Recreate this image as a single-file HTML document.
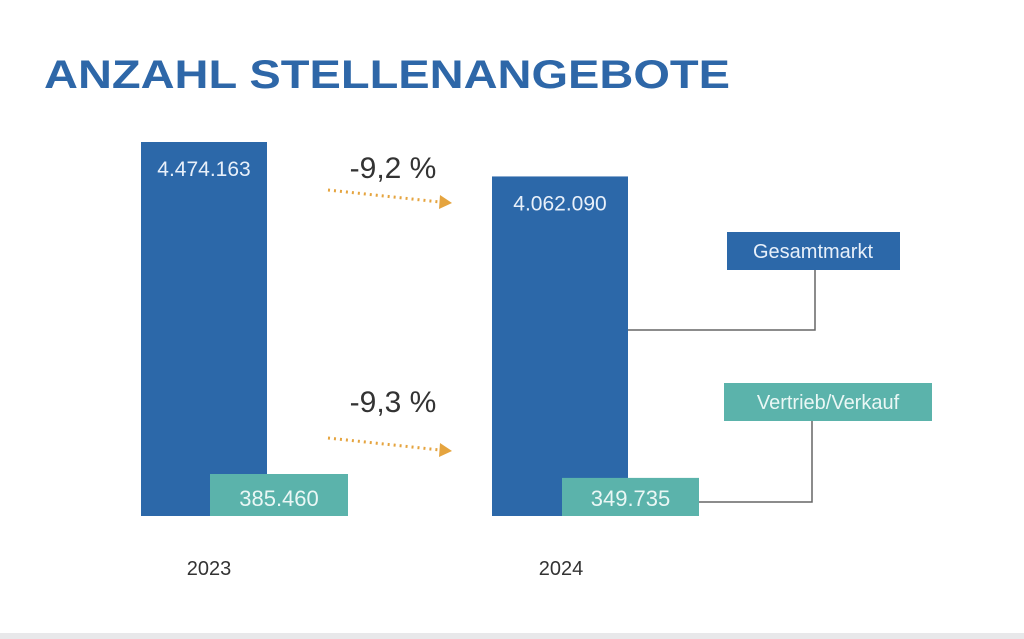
<!DOCTYPE html>
<html><head><meta charset="utf-8"><style>
html,body{margin:0;padding:0;background:#fff;width:1024px;height:639px;overflow:hidden}
svg{display:block;font-family:"Liberation Sans",sans-serif}
</style></head><body>
<svg id="c" width="1024" height="639" viewBox="0 0 1024 639">
<text x="44" y="88" font-size="40" font-weight="bold" fill="#2e67a8" textLength="686" lengthAdjust="spacingAndGlyphs">ANZAHL STELLENANGEBOTE</text>
<rect x="0" y="633" width="1024" height="6" fill="#e8e8ea"/>
<g id="marks"></g>
</svg>
<script>
const years = ["2023", "2024"];
const totalValues = [4474163, 4062090];
const salesValues = [385460, 349735];
const totalLabels = ["4.474.163", "4.062.090"];
const salesLabels = ["385.460", "349.735"];
const changeLabels = ["-9,2 %", "-9,3 %"];

const NS = "http://www.w3.org/2000/svg";
const g = document.getElementById("marks");
const base = 516;
const yTotal = v => base - v * (374 / 4474163);
const ySales = v => base - v * (42 / 385460);
const totalX = [141, 492], totalW = [126, 136];
const salesX = [210, 562], salesW = [138, 137];
function mk(tag, attrs, text) {
  const e = document.createElementNS(NS, tag);
  for (const k in attrs) e.setAttribute(k, attrs[k]);
  if (text !== undefined) e.textContent = text;
  g.appendChild(e);
  return e;
}
years.forEach((yr, i) => {
  const t = yTotal(totalValues[i]);
  let r = mk("rect", {x: totalX[i], y: t, width: totalW[i], height: base - t, fill: "#2c68a9"});
  
  
  let tl = mk("text", {x: totalX[i] + totalW[i] / 2, y: t + 34, "font-size": "21", fill: "#e8f0fa", "text-anchor": "middle"}, totalLabels[i]);
  
  
  const s = ySales(salesValues[i]);
  let sr = mk("rect", {x: salesX[i], y: s, width: salesW[i], height: base - s, fill: "#5bb3ab"});
  
  
  let sl = mk("text", {x: salesX[i] + salesW[i] / 2, y: base - 10, "font-size": "22", fill: "#eaf7f5", "text-anchor": "middle"}, salesLabels[i]);
  
  
  let xl = mk("text", {x: [209, 561][i], y: 575, "font-size": "20", fill: "#333", "text-anchor": "middle"}, yr);
  
  
});
// change annotations
[[178, 204], [412, 452]].forEach((p, i) => {
  let t = mk("text", {x: 393, y: p[0], "font-size": "30", fill: "#333", "text-anchor": "middle"}, changeLabels[i]);
  
  
  let l = mk("line", {x1: 328, y1: p[1] - 14, x2: 440, y2: p[1] - 2, stroke: "#e5a43f", "stroke-width": "3", "stroke-dasharray": "2 4"});
  
  
  let a = mk("polygon", {points: `440,${p[1]-9} 452,${p[1]-1} 439,${p[1]+5}`, fill: "#e5a43f"});
  
  
});
// legend
let c1 = mk("polyline", {points: "628,330 815,330 815,270", fill: "none", stroke: "#666", "stroke-width": "1.5"});


let c2 = mk("polyline", {points: "699,502 812,502 812,421", fill: "none", stroke: "#666", "stroke-width": "1.5"});


let b1 = mk("rect", {x: 727, y: 232, width: 173, height: 38, fill: "#2c68a9"});


let t1 = mk("text", {x: 813, y: 258, "font-size": "20", fill: "#e8f0fa", "text-anchor": "middle"}, "Gesamtmarkt");


let b2 = mk("rect", {x: 724, y: 383, width: 208, height: 38, fill: "#5bb3ab"});


let t2 = mk("text", {x: 828, y: 409, "font-size": "20", fill: "#eaf7f5", "text-anchor": "middle"}, "Vertrieb/Verkauf");


</script>
</body></html>
